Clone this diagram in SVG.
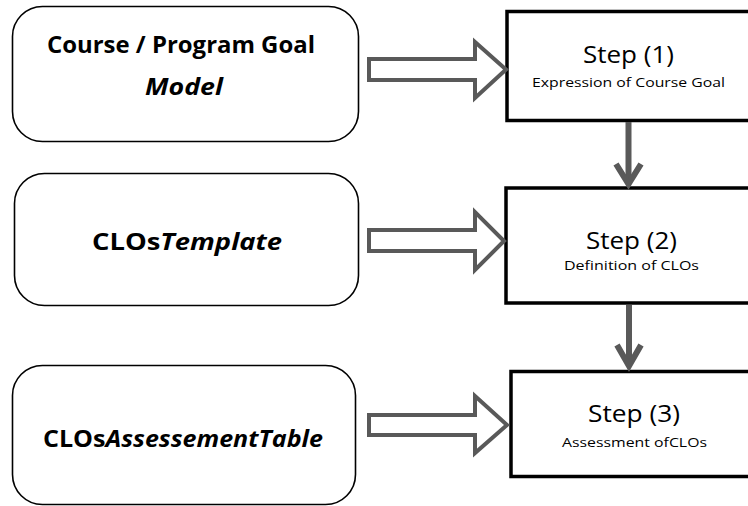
<svg xmlns="http://www.w3.org/2000/svg" width="748" height="506" viewBox="0 0 748 506">
<style>
.src{fill:#fff;stroke:#000;stroke-width:1.6}
.step{fill:#fff;stroke:#000;stroke-width:3.5}
.big{font-family:"Open Sans","Liberation Sans",sans-serif;font-weight:700;font-size:23px;fill:#000}
.it{font-style:italic}
.st{font-family:"Open Sans","Liberation Sans",sans-serif;font-size:23px;fill:#000}
.sm{font-family:"Open Sans","Liberation Sans",sans-serif;font-size:13.5px;fill:#000}
.hollow{fill:#fff;stroke:#595959;stroke-width:4;stroke-linejoin:miter}
.vline{stroke:#595959;stroke-width:6;fill:none}
.chev{stroke:#595959;stroke-width:6;fill:none;stroke-linejoin:miter;stroke-linecap:butt}
</style>
<rect width="748" height="506" fill="#fff"/>
<g id="goal-model">
<rect class="src" x="12.5" y="6.5" width="346" height="135" rx="30" ry="30"/>
<text class="big" x="181" y="53" text-anchor="middle" textLength="268" lengthAdjust="spacingAndGlyphs">Course / Program Goal</text>
<text class="big it" x="184" y="95" text-anchor="middle" textLength="78" lengthAdjust="spacingAndGlyphs">Model</text>
</g>
<g id="clos-template">
<rect class="src" x="14.5" y="173.5" width="344" height="132" rx="30" ry="30"/>
<text class="big" x="187" y="250" text-anchor="middle" textLength="190" lengthAdjust="spacingAndGlyphs">CLOs<tspan class="it">Template</tspan></text>
</g>
<g id="clos-assessment-table">
<rect class="src" x="12.5" y="365.5" width="343" height="139" rx="30" ry="30"/>
<text class="big" x="183" y="447" text-anchor="middle" textLength="280" lengthAdjust="spacingAndGlyphs">CLOs<tspan class="it">AssessementTable</tspan></text>
</g>
<g id="step1">
<rect class="step" x="507" y="11.5" width="260" height="109"/>
<text class="st" x="628.5" y="63" text-anchor="middle" textLength="91" lengthAdjust="spacingAndGlyphs">Step (1)</text>
<text class="sm" x="628.5" y="87" text-anchor="middle" textLength="193" lengthAdjust="spacingAndGlyphs">Expression of Course Goal</text>
</g>
<g id="step2">
<rect class="step" x="506" y="188" width="260" height="115"/>
<text class="st" x="631.5" y="249" text-anchor="middle" textLength="91" lengthAdjust="spacingAndGlyphs">Step (2)</text>
<text class="sm" x="631.5" y="270" text-anchor="middle" textLength="135" lengthAdjust="spacingAndGlyphs">Definition of CLOs</text>
</g>
<g id="step3">
<rect class="step" x="511" y="371.5" width="260" height="105"/>
<text class="st" x="634" y="422" text-anchor="middle" textLength="92" lengthAdjust="spacingAndGlyphs">Step (3)</text>
<text class="sm" x="634.5" y="447" text-anchor="middle" textLength="145" lengthAdjust="spacingAndGlyphs">Assessment ofCLOs</text>
</g>
<g id="connectors">
<path class="hollow" d="M369,59 H475 V42 L506,69.5 L475,98 V80 H369 Z"/>
<path class="hollow" d="M369,230 H475 V212 L504,241 L475,270 V251 H369 Z"/>
<path class="hollow" d="M369,415 H475 V396 L507,425 L475,453 V435 H369 Z"/>
<line class="vline" x1="628.5" y1="122" x2="628.5" y2="184"/>
<path class="chev" d="M616,164 L628.5,184 L641,164"/>
<line class="vline" x1="629" y1="305" x2="629" y2="366"/>
<path class="chev" d="M617,345 L629,366 L641,345"/>
</g>
</svg>
